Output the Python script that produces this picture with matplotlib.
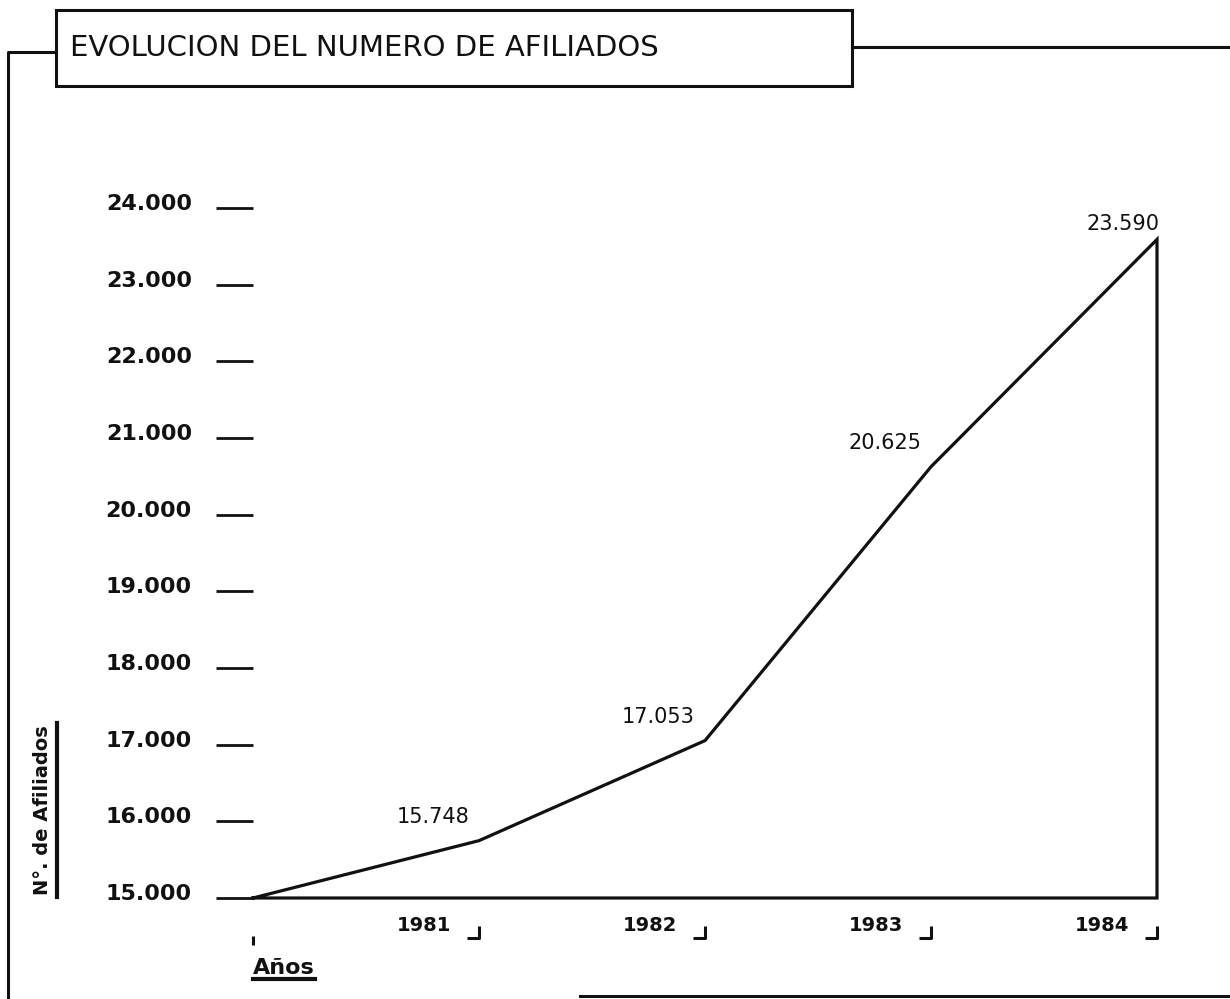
import matplotlib
matplotlib.use("Agg")
import matplotlib.pyplot as plt
from matplotlib.path import Path
from matplotlib.lines import Line2D
from matplotlib.patches import Rectangle
from matplotlib.transforms import IdentityTransform, ScaledTranslation

# datos
anios = [1981, 1982, 1983, 1984]
afiliados = [15748, 17053, 20625, 23590]
etiquetas_valor = ["15.748", "17.053", "20.625", "23.590"]
origen_anio = 1980
base = 15000
ticks_y = list(range(15000, 25000, 1000))
etiquetas_y = [f"{v:,}".replace(",", ".") for v in ticks_y]

W, H = 1230, 999
fig = plt.figure(figsize=(W / 100, H / 100), dpi=100)
fig.patch.set_facecolor("white")


def fx(x):
    return x / W


def fy(y):
    return 1 - y / H


negro = "#111111"

# ejes
ax = fig.add_axes([fx(253), fy(898), (1157 - 253) / W, (898 - 208) / H])
ax.set_xlim(origen_anio, anios[-1])
ax.set_ylim(base, 24000)
for s in ax.spines.values():
    s.set_visible(False)
ax.set_xticks([])
ax.set_yticks(ticks_y)
ax.set_yticklabels(etiquetas_y, fontsize=16, fontweight="bold", color=negro)
ax.tick_params(axis="y", length=27, width=2, pad=17, color=negro)
for lab in ax.get_yticklabels():
    lab.set_transform(lab.get_transform() + ScaledTranslation(0, 0.06, fig.dpi_scale_trans))

# linea de evolucion (cerrada hasta la base)
xs = [origen_anio] + anios + [anios[-1], origen_anio]
ys = [base] + afiliados + [base, base]
ax.plot(xs, ys, color=negro, lw=2.3, solid_joinstyle="miter", clip_on=False)

# valores
for i, (a, v, t) in enumerate(zip(anios, afiliados, etiquetas_valor)):
    if i == len(anios) - 1:
        off = (3, 15)
    else:
        off = (-10, 24)
    ax.annotate(t, (a, v), xytext=off, textcoords="offset pixels",
                ha="right", va="center", fontsize=15, color=negro)

# etiquetas de años y marcas en esquina
for a in anios:
    ax.annotate(str(a), (a, base), xytext=(-28, -28), textcoords="offset pixels",
                ha="right", va="center", fontsize=14, fontweight="bold", color=negro)
esquina = Path([(0, -0.7), (0, -1), (-0.3, -1)], [Path.MOVETO, Path.LINETO, Path.LINETO])
ax.plot(anios, [base] * len(anios), ls="none", marker=esquina, ms=57.6,
        mfc="none", mec=negro, mew=2.2, clip_on=False)
marca0 = Path([(0, -0.8), (0, -1)], [Path.MOVETO, Path.LINETO])
ax.plot([origen_anio], [base], ls="none", marker=marca0, ms=67.7,
        mfc="none", mec=negro, mew=2.2, clip_on=False)

t_anios = ax.annotate("Años", (origen_anio, base), xytext=(0, -70), textcoords="offset pixels",
                      ha="left", va="center", fontsize=16, fontweight="bold", color=negro)

# titulo del eje y
t_y = fig.text(fx(43), fy(810), "N°. de Afiliados", rotation=90, ha="center", va="center",
               fontsize=14, fontweight="bold", color=negro)

# marco y caja del titulo
fig.add_artist(Rectangle((fx(56), fy(86)), (852 - 56) / W, (86 - 10) / H, fill=False,
                         lw=2.2, ec=negro, transform=fig.transFigure))
fig.text(fx(70), fy(48), "EVOLUCION DEL NUMERO DE AFILIADOS", ha="left", va="center",
         fontsize=21, color=negro)
fig.add_artist(Line2D([fx(852), 1], [fy(47), fy(47)], lw=2.2, color=negro,
                      transform=fig.transFigure))
fig.add_artist(Line2D([fx(8), fx(8), fx(56)], [0, fy(52), fy(52)], lw=2.2, color=negro,
                      transform=fig.transFigure))
fig.add_artist(Line2D([fx(580), 1], [fy(996), fy(996)], lw=2.2, color=negro,
                      transform=fig.transFigure))

# subrayados
fig.canvas.draw()
r = fig.canvas.get_renderer()
bb = t_anios.get_window_extent(r)
fig.add_artist(Line2D([bb.x0, bb.x1], [bb.y0 - 1, bb.y0 - 1], lw=3, color=negro,
                      transform=IdentityTransform()))
bb = t_y.get_window_extent(r)
fig.add_artist(Line2D([bb.x1 + 4, bb.x1 + 4], [bb.y0 - 2, bb.y1 + 2], lw=3, color=negro,
                      transform=IdentityTransform()))

fig.savefig("out.png", dpi=100)
